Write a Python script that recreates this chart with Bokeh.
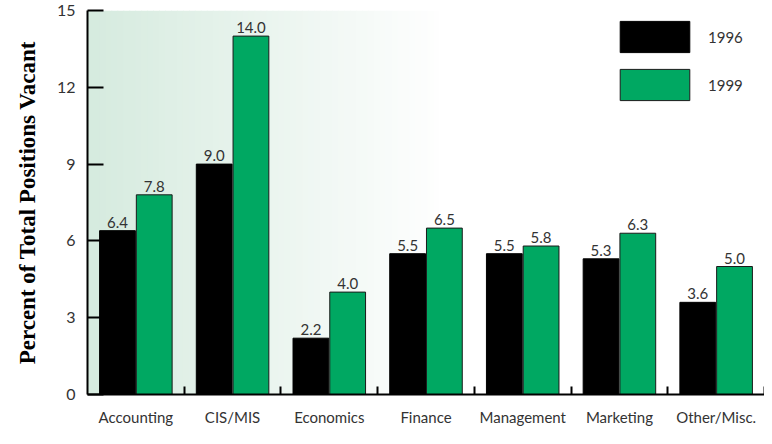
import numpy as np
from bokeh.plotting import figure
from bokeh.models import (ColumnDataSource, FixedTicker, Range1d, Legend, LegendItem,
                          LabelSet)
from bokeh.core.properties import value
from bokeh.transform import dodge
from bokeh.embed import file_html
from bokeh.resources import INLINE

categories = ["Accounting", "CIS/MIS", "Economics", "Finance", "Management", "Marketing", "Other/Misc."]
vals_1996 = [6.4, 9.0, 2.2, 5.5, 5.5, 5.3, 3.6]
vals_1999 = [7.8, 14.0, 4.0, 6.5, 5.8, 6.3, 5.0]
y_ticks = [0, 3, 6, 9, 12, 15]

GREEN = "#00a862"
TXT = "#333333"
FONT = "Lato"

xc = [i + 0.5 for i in range(len(categories))]
src = ColumnDataSource(dict(
    x=xc, v96=vals_1996, v99=vals_1999,
    l96=[f"{v:.1f}" for v in vals_1996],
    l99=[f"{v:.1f}" for v in vals_1999],
))

p = figure(width=764, height=428, output_backend="svg", toolbar_location=None,
           x_range=Range1d(0, len(categories)), y_range=Range1d(0, 15),
           min_border_left=87, min_border_right=0, min_border_top=10, min_border_bottom=30)
p.outline_line_color = None
p.grid.visible = False
p.background_fill_color = "white"

# gradient background (decoration)
n = 60
edges = np.linspace(0, 3.7, n + 1)
c0 = np.array([0xd6, 0xeb, 0xdf])
c1 = np.array([0xff, 0xff, 0xff])
cols = []
for k in range(n):
    t = k / (n - 1)
    c = (c0 * (1 - t) + c1 * t).astype(int)
    cols.append("#%02x%02x%02x" % tuple(c))
p.quad(left=edges[:-1], right=edges[1:] + 0.01, bottom=0, top=15, fill_color=cols, line_color=None)

r96 = p.vbar(x=dodge("x", -0.19), top="v96", width=0.37, source=src,
             fill_color="black", line_color="black", line_width=1)
r99 = p.vbar(x=dodge("x", 0.19), top="v99", width=0.37, source=src,
             fill_color=GREEN, line_color="#1a1a1a", line_width=1)

for col, lab, off in (("v96", "l96", -0.19), ("v99", "l99", 0.19)):
    ls = LabelSet(x=dodge("x", off), y=col, text=lab, source=src, text_align="center",
                  text_baseline="bottom", y_offset=3, text_font=value(FONT),
                  text_font_size=value("15px"), text_color=value(TXT))
    p.add_layout(ls)

# axes
xa = p.xaxis[0]
xa.ticker = FixedTicker(ticks=xc, minor_ticks=list(range(1, len(categories) + 1)))
xa.major_label_overrides = {x: c for x, c in zip(xc, categories)}
xa.major_tick_in = 0
xa.major_tick_out = 0
xa.minor_tick_in = 8
xa.minor_tick_out = 0
xa.minor_tick_line_width = 2
xa.minor_tick_line_color = "black"
xa.axis_line_width = 2
xa.axis_line_color = "black"
xa.major_label_text_font = FONT
xa.major_label_text_font_size = "15px"
xa.major_label_text_color = TXT
xa.major_label_standoff = 13

ya = p.yaxis[0]
ya.ticker = FixedTicker(ticks=y_ticks, minor_ticks=[])
ya.major_tick_in = 16
ya.major_tick_out = 0
ya.major_tick_line_width = 2
ya.axis_line_width = 2
ya.axis_line_color = "black"
ya.major_label_text_font = FONT
ya.major_label_text_font_size = "16px"
ya.major_label_text_color = TXT
ya.major_label_standoff = 12
ya.axis_label = "Percent of Total Positions Vacant"
ya.axis_label_text_font = "Liberation Serif"
ya.axis_label_text_font_style = "bold"
ya.axis_label_text_font_size = "23px"
ya.axis_label_text_color = "black"
ya.axis_label_standoff = 14

legend = Legend(items=[LegendItem(label="1996", renderers=[r96]),
                       LegendItem(label="1999", renderers=[r99])],
                location=(524, 290), glyph_width=87, glyph_height=39, spacing=9,
                padding=0, margin=0, label_standoff=10, border_line_color=None,
                background_fill_alpha=0, label_text_font=FONT, label_text_font_size="15px",
                label_text_color=TXT, label_text_baseline="top")
p.add_layout(legend, "center")

open("out.html", "w").write(file_html(p, INLINE))
